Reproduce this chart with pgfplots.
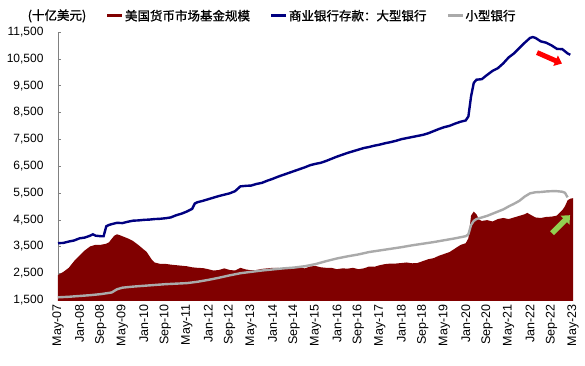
\documentclass[border=0pt]{standalone}
\usepackage{fontspec}
\setmainfont{Liberation Sans}
\newfontfamily\cjk[FakeBold=1]{Noto Sans CJK SC}
\usepackage{pgfplots}
\pgfplotsset{compat=1.18}
\usepackage{pgfplotstable}
\usetikzlibrary{arrows.meta}
\definecolor{colmmf}{RGB}{128,0,0}
\definecolor{colbig}{RGB}{0,0,128}
\definecolor{colsmall}{RGB}{170,170,170}
\definecolor{redarrow}{RGB}{255,0,0}
\definecolor{greenarrow}{RGB}{146,208,80}

\pgfplotstableread{
m v
0 2430
2 2550
4 2700
6 2950
8 3150
10 3350
12 3500
14 3560
16 3560
18 3600
19 3650
20 3780
21 3900
22 3950
23 3920
24 3880
26 3800
28 3700
30 3550
32 3380
33 3300
34 3150
35 3000
36 2900
38 2850
40 2850
42 2820
44 2800
46 2780
48 2760
50 2720
52 2700
54 2690
56 2650
58 2600
60 2620
62 2680
64 2620
66 2600
68 2700
70 2640
72 2610
74 2620
76 2660
78 2680
80 2700
82 2700
84 2660
86 2680
88 2720
90 2720
92 2680
94 2750
96 2770
98 2720
100 2700
102 2700
104 2650
106 2680
108 2670
110 2700
112 2650
114 2680
116 2750
118 2740
120 2800
122 2840
124 2860
126 2860
128 2880
130 2900
132 2870
134 2880
136 2950
138 3020
140 3060
142 3150
144 3220
146 3290
148 3420
150 3550
152 3620
153 3800
154 4650
155 4800
156 4700
157 4500
158 4450
160 4480
162 4430
164 4520
166 4560
168 4520
170 4580
172 4640
174 4700
175 4750
176 4690
178 4580
180 4560
182 4600
184 4610
186 4650
188 4850
189 5000
190 5220
191 5280
192 5300
}\mmfdata

\pgfplotstableread{
m v
0 3620
2 3630
4 3680
6 3720
8 3800
10 3830
12 3900
13 3950
14 3900
16 3880
17 3880
18 4250
19 4300
20 4330
22 4380
24 4370
26 4420
28 4460
30 4470
32 4490
34 4500
36 4520
38 4530
40 4550
42 4580
44 4660
46 4720
48 4800
50 4900
51 5100
52 5150
54 5200
56 5260
58 5320
60 5380
62 5430
64 5480
66 5560
68 5740
70 5760
72 5770
74 5830
76 5870
78 5950
80 6020
82 6100
84 6170
86 6240
88 6310
90 6380
92 6450
94 6530
96 6580
98 6620
100 6690
102 6770
104 6850
106 6920
108 6990
110 7050
112 7110
114 7170
116 7210
118 7260
120 7300
122 7350
124 7390
126 7440
128 7500
130 7540
132 7580
134 7620
136 7660
138 7720
140 7800
142 7880
144 7950
146 8000
148 8080
150 8150
152 8200
153 8350
154 9100
155 9600
156 9720
158 9740
160 9900
162 10050
164 10150
166 10330
168 10550
170 10700
172 10900
174 11100
176 11280
177 11310
178 11280
180 11150
182 11100
184 11000
186 10870
188 10860
190 10700
191 10650
}\bigdata

\pgfplotstableread{
m v
0 1600
4 1620
8 1650
12 1680
16 1720
20 1780
22 1900
24 1960
28 2000
32 2030
36 2060
40 2090
44 2110
48 2130
52 2180
56 2250
60 2330
64 2420
68 2500
72 2550
76 2600
80 2640
84 2680
88 2710
92 2760
96 2840
100 2950
104 3050
108 3130
112 3200
116 3290
120 3350
124 3410
128 3470
132 3540
136 3600
140 3660
144 3730
148 3800
152 3880
153 3950
154 4300
155 4450
156 4520
158 4580
160 4640
162 4720
164 4800
166 4880
168 4990
170 5090
172 5200
174 5360
176 5480
178 5520
180 5530
182 5550
184 5560
186 5560
188 5540
189 5500
190 5330
}\smalldata

\begin{document}
\begin{tikzpicture}
\useasboundingbox (-58bp,-66bp) rectangle (527bp,300bp);
\begin{axis}[
  at={(0,0)}, anchor=south west,
  scale only axis, width=515bp, height=268bp,
  xmin=0, xmax=192, ymin=1500, ymax=11500,
  clip mode=individual,
  axis x line*=bottom,
  axis y line*=left,
  x axis line style={draw=none},
  y axis line style={draw=gray},
  ytick={1500,2500,...,11500},
  ytick style={gray},
  xtick style={draw=none},
  tick align=inside,
  major tick length=3bp,
  scaled y ticks=false,
  xtick={0,8,...,192},
  xticklabels={May-07,Jan-08,Sep-08,May-09,Jan-10,Sep-10,May-11,Jan-12,Sep-12,May-13,Jan-14,Sep-14,May-15,Jan-16,Sep-16,May-17,Jan-18,Sep-18,May-19,Jan-20,Sep-20,May-21,Jan-22,Sep-22,May-23},
  xticklabel style={font=\fontsize{12.5bp}{14bp}\selectfont, rotate=90, anchor=east, xshift=-1bp},
  /pgf/number format/assume math mode=true,
  /pgf/number format/1000 sep={,},
  yticklabel style={font=\fontsize{12bp}{14bp}\selectfont, xshift=-11bp},
  legend style={draw=none, fill=none, at={(axis description cs:0.087,1.06)}, anchor=west,
    font=\cjk\fontsize{12.5bp}{14bp}\selectfont, nodes={inner xsep=1bp, inner ysep=0bp},
    /tikz/every even column/.append style={column sep=19bp}},
  legend columns=3,
  legend image code/.code={\draw[#1, line width=3bp] (0bp,0bp) -- (15bp,0bp);},
]
\addlegendimage{colmmf}
\addlegendentry{美国货币市场基金规模}
\addlegendimage{colbig}
\addlegendentry{商业银行存款：大型银行}
\addlegendimage{colsmall}
\addlegendentry{小型银行}

\addplot[fill=colmmf, draw=none, forget plot] table[x=m, y=v] {\mmfdata} |- (axis cs:0,0) -- cycle;
\addplot[colsmall, line width=2.4bp, forget plot] table[x=m, y=v] {\smalldata};
\addplot[colbig, line width=2.4bp, forget plot] table[x=m, y=v] {\bigdata};

\draw[redarrow, line width=5bp, -{Triangle[width=11bp, length=7bp]}] (axis cs:178.6,10733) -- (axis cs:187.9,10324);
\draw[greenarrow, line width=5.5bp, -{Triangle[width=12bp, length=7bp]}] (axis cs:184.2,3994) -- (axis cs:190.9,4665);

\node[font=\cjk\fontsize{12.5bp}{14bp}\selectfont, xshift=6bp] at (axis description cs:-0.0136,1.06) {(十亿美元)};
\end{axis}
\end{tikzpicture}
\end{document}
